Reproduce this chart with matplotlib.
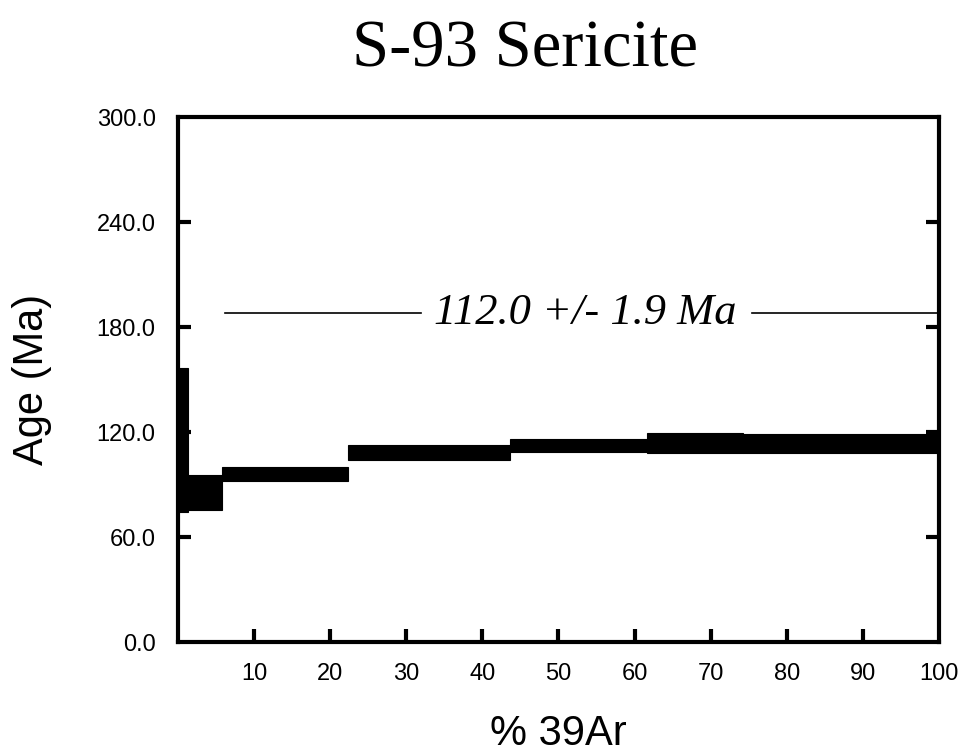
import matplotlib
matplotlib.use("Agg")
import matplotlib.pyplot as plt
import numpy as np

# Step boundaries (% 39Ar cumulative) and ages with 1-sigma errors
cum_edges = [0.0, 1.35, 5.75, 22.3, 43.6, 61.7, 74.2, 98.7, 100.0]
ages = [115.5, 85.4, 95.9, 108.3, 112.3, 113.7, 113.4, 114.3]
errs = [41.0, 10.0, 3.9, 4.3, 3.7, 5.7, 5.4, 6.3]

plateau_label = "112.0 +/- 1.9 Ma"
plateau_y = 188.0
plateau_left = [6.2, 32.0]
plateau_right = [75.5, 100.0]

x_ticks = [10, 20, 30, 40, 50, 60, 70, 80, 90, 100]
y_ticks = [0, 60, 120, 180, 240, 300]
y_ticklabels = ["0.0", "60.0", "120.0", "180.0", "240.0", "300.0"]

fig = plt.figure(figsize=(9.62, 7.53), dpi=100)
ax = fig.add_axes([0.185, 0.1474, 0.791, 0.6972])

edges = np.array(cum_edges)
widths = np.diff(edges)
a = np.array(ages)
e = np.array(errs)
ax.bar(edges[:-1], 2 * e, width=widths, bottom=a - e, align="edge",
       color="black", edgecolor="black", linewidth=0.8)

ax.plot(plateau_left, [plateau_y, plateau_y], color="black", lw=1.2)
ax.plot(plateau_right, [plateau_y, plateau_y], color="black", lw=1.2)
ax.text(53.5, plateau_y, plateau_label, ha="center", va="center",
        fontsize=32, style="italic", family="Liberation Serif")

ax.set_xlim(0, 100)
ax.set_ylim(0, 300)
ax.set_xticks(x_ticks)
ax.set_xticklabels([str(t) for t in x_ticks], family="Liberation Sans", fontsize=17)
ax.set_yticks(y_ticks)
ax.set_yticklabels(y_ticklabels, family="Liberation Sans", fontsize=17)

for s in ax.spines.values():
    s.set_linewidth(3)

ax.tick_params(axis="x", direction="in", length=9.5, width=3, pad=15,
               top=False, bottom=True)
ax.tick_params(axis="y", direction="in", length=9.5, width=3, pad=16,
               left=True, right=True)
# hide ticks at 0 / 300 and 100 (spine corners)
for t in ax.yaxis.get_major_ticks():
    if t.get_loc() in (0, 300):
        t.tick1line.set_visible(False)
        t.tick2line.set_visible(False)
for t in ax.xaxis.get_major_ticks():
    if t.get_loc() == 100:
        t.tick1line.set_visible(False)

ax.set_xlabel("% 39Ar", family="Liberation Sans", fontsize=30, labelpad=21)
ax.set_ylabel("Age (Ma)", family="Liberation Sans", fontsize=30, labelpad=32)
fig.text(0.546, 0.933, "S-93 Sericite", ha="center", va="center",
         family="Liberation Serif", fontsize=48)

fig.savefig("out.png", dpi=100)
